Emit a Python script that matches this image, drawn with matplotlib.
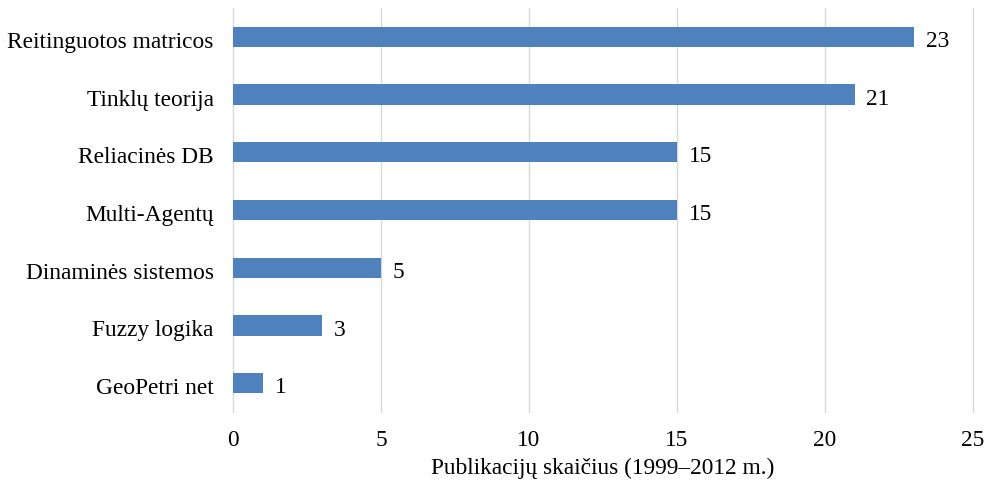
import matplotlib.pyplot as plt
import matplotlib.transforms as mtransforms

# data
categories = ['Reitinguotos matricos', 'Tinklų teorija', 'Reliacinės DB', 'Multi-Agentų',
              'Dinaminės sistemos', 'Fuzzy logika', 'GeoPetri net']
values = [23, 21, 15, 15, 5, 3, 1]
xticks = [0, 5, 10, 15, 20, 25]

plt.rcParams['font.family'] = ['Liberation Serif', 'DejaVu Serif']
fs = 16.8

fig = plt.figure(figsize=(9.93, 4.81), dpi=100)
ax = fig.add_axes([0.2347, 0.1414, 0.7452, 0.8399])

pos = list(range(len(categories)))[::-1]
ax.barh(pos, values, height=0.35, color='#4F81BD', zorder=3)

# value labels
for p, v in zip(pos, values):
    ax.text(v + 0.4, p - 0.02, str(v), va='center_baseline', ha='left', fontsize=fs)

ax.set_yticks(pos)
ax.set_yticklabels(categories, fontsize=fs)
ax.set_xticks(xticks)
ax.set_xticklabels([str(t) for t in xticks], fontsize=fs)
ax.set_xlim(0, 25)
ax.set_ylim(-0.5, len(categories) - 0.5)
ax.tick_params(length=0)
ax.tick_params(axis='x', pad=12)
ax.tick_params(axis='y', pad=14)
ax.grid(axis='x', color='#D9D9D9', linewidth=1, zorder=0)
for gl in ax.get_xgridlines():
    gl.set_clip_on(False)
for s in ax.spines.values():
    s.set_visible(False)

# nudge category labels down a bit
off = mtransforms.ScaledTranslation(0, -2 / 100, fig.dpi_scale_trans)
for lab in ax.get_yticklabels():
    lab.set_transform(lab.get_transform() + off)

ax.set_xlabel('Publikacijų skaičius (1999–2012 m.)', fontsize=fs, labelpad=5)

fig.savefig('out.png', dpi=100)
